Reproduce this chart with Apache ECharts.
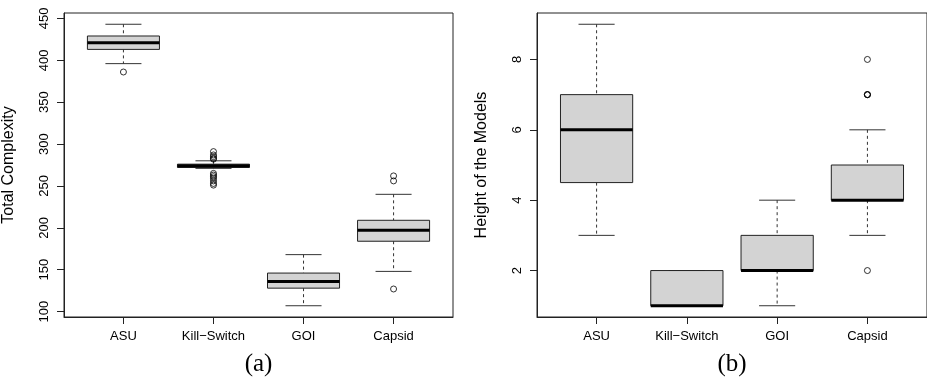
<!DOCTYPE html>
<html>
<head>
<meta charset="utf-8">
<script src="https://cdn.jsdelivr.net/npm/echarts@6.0.0/dist/echarts.min.js"></script>
<style>
  html, body { margin: 0; padding: 0; background: #fff; }
  #main { width: 927px; height: 382px; }
</style>
</head>
<body>
<div id="main"></div>
<script>
// categories shared by both panels
var categories = ['ASU', 'Kill\u2212Switch', 'GOI', 'Capsid'];

// (a) Total Complexity: [lower whisker, Q1, median, Q3, upper whisker]
var complexityStats = [
  [396, 413, 421, 429, 443],
  [271, 272, 274, 276, 280],
  [107, 128, 136, 146, 168],
  [148, 184, 197, 209, 240]
];
var complexityOutliers = [
  [386],
  [291, 287, 285, 283, 282, 265, 263, 261, 259, 256, 253, 251],
  [],
  [262, 256, 127]
];
var complexityTicks = [100, 150, 200, 250, 300, 350, 400, 450];

// (b) Height of the Models
var heightStats = [
  [3, 4.5, 6, 7, 9],
  [1, 1, 1, 2, 2],
  [1, 2, 2, 3, 4],
  [3, 4, 4, 5, 6]
];
var heightOutliers = [
  [],
  [],
  [],
  [8, 7, 7, 7, 2]
];
var heightTicks = [2, 4, 6, 8];

var catPos = [1, 2, 3, 4];

function boxData(stats) {
  return stats.map(function (s, i) { return [catPos[i]].concat(s); });
}
function outlierData(outs) {
  var res = [];
  outs.forEach(function (list, i) {
    list.forEach(function (v) { res.push([catPos[i], v]); });
  });
  return res;
}

// R-style box: dashed whiskers, short staples, grey box, thick median
function renderBox(params, api) {
  var x = api.value(0);
  var low = api.coord([x, api.value(1)]);
  var q1 = api.coord([x, api.value(2)]);
  var med = api.coord([x, api.value(3)]);
  var q3 = api.coord([x, api.value(4)]);
  var high = api.coord([x, api.value(5)]);
  var unit = api.size([1, 0])[0];
  var half = unit * 0.4, cap = unit * 0.2;
  var cx = med[0];
  var dashed = { stroke: '#333', lineWidth: 1, lineDash: [3, 3] };
  var solid = { stroke: '#333', lineWidth: 1 };
  return {
    type: 'group',
    children: [
      { type: 'line', shape: { x1: cx, y1: high[1], x2: cx, y2: q3[1] }, style: dashed },
      { type: 'line', shape: { x1: cx, y1: q1[1], x2: cx, y2: low[1] }, style: dashed },
      { type: 'line', shape: { x1: cx - cap, y1: high[1], x2: cx + cap, y2: high[1] }, style: solid },
      { type: 'line', shape: { x1: cx - cap, y1: low[1], x2: cx + cap, y2: low[1] }, style: solid },
      { type: 'rect', shape: { x: cx - half, y: q3[1], width: half * 2, height: q1[1] - q3[1] },
        style: { fill: '#d3d3d3', stroke: '#222', lineWidth: 1 } },
      { type: 'line', shape: { x1: cx - half, y1: med[1], x2: cx + half, y2: med[1] },
        style: { stroke: '#000', lineWidth: 3 } }
    ]
  };
}

var labelFont = { fontFamily: 'Liberation Sans', fontSize: 13, color: '#000' };

function makeX(idx, caption) {
  return {
    type: 'value', gridIndex: idx, min: 0.34, max: 4.66,
    name: caption, nameLocation: 'middle', nameGap: 35,
    nameTextStyle: { fontFamily: 'Liberation Serif', fontSize: 25, color: '#000' },
    axisLine: { show: true, lineStyle: { color: '#222', width: 1 } },
    axisTick: { show: true, length: 7, customValues: catPos, lineStyle: { color: '#222' } },
    axisLabel: Object.assign({ margin: 13, customValues: catPos,
      formatter: function (v) { return categories[Math.round(v) - 1]; } }, labelFont),
    splitLine: { show: false }
  };
}
function makeY(idx, title, lo, hi, ticks) {
  return {
    type: 'value', gridIndex: idx, min: lo, max: hi,
    name: title, nameLocation: 'middle', nameGap: 47,
    nameTextStyle: { fontFamily: 'Liberation Sans', fontSize: 16, color: '#000' },
    axisLine: { show: true, lineStyle: { color: '#222', width: 1 } },
    axisTick: { show: true, length: 7, customValues: ticks, lineStyle: { color: '#222' } },
    axisLabel: Object.assign({ margin: 13, rotate: 90, customValues: ticks }, labelFont),
    splitLine: { show: false }
  };
}

var chart = echarts.init(document.getElementById('main'));
chart.setOption({
  backgroundColor: '#fff',
  animation: false,
  grid: [
    { left: 62, top: 13, width: 391, height: 310, show: true, borderColor: '#222', borderWidth: 1, backgroundColor: 'transparent' },
    { left: 537, top: 13, width: 392, height: 309, show: true, borderColor: '#222', borderWidth: 1, backgroundColor: 'transparent' }
  ],
  xAxis: [makeX(0, '(a)'), makeX(1, '(b)')],
  yAxis: [
    makeY(0, 'Total Complexity', 93.56, 456.44, complexityTicks),
    makeY(1, 'Height of the Models', 0.68, 9.32, heightTicks)
  ],
  series: [
    { type: 'custom', xAxisIndex: 0, yAxisIndex: 0, renderItem: renderBox,
      encode: { x: 0, y: [1, 2, 3, 4, 5] }, data: boxData(complexityStats) },
    { type: 'scatter', xAxisIndex: 0, yAxisIndex: 0, symbol: 'circle', symbolSize: 6,
      itemStyle: { color: 'transparent', borderColor: '#000', borderWidth: 1 },
      data: outlierData(complexityOutliers) },
    { type: 'custom', xAxisIndex: 1, yAxisIndex: 1, renderItem: renderBox,
      encode: { x: 0, y: [1, 2, 3, 4, 5] }, data: boxData(heightStats) },
    { type: 'scatter', xAxisIndex: 1, yAxisIndex: 1, symbol: 'circle', symbolSize: 6,
      itemStyle: { color: 'transparent', borderColor: '#000', borderWidth: 1 },
      data: outlierData(heightOutliers) }
  ]
});
</script>
</body>
</html>
